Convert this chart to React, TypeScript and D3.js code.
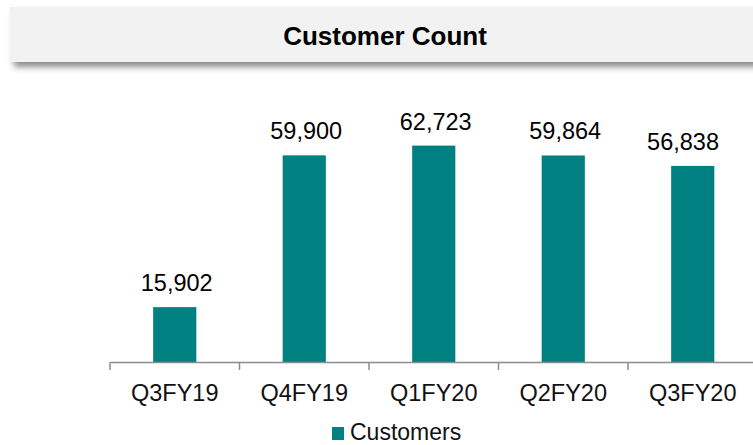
import { useEffect, useRef } from 'react';
import * as d3 from 'd3';

const categories = ['Q3FY19', 'Q4FY19', 'Q1FY20', 'Q2FY20', 'Q3FY20'];
const customers = [15902, 59900, 62723, 59864, 56838];
const seriesName = 'Customers';
const chartTitle = 'Customer Count';

const App = () => {
  const svgRef = useRef<SVGSVGElement | null>(null);
  const width = 753;
  const height = 445;

  useEffect(() => {
    const svg = d3.select(svgRef.current);
    svg.selectAll('*').remove();

    const font = '"Liberation Sans", Arial, sans-serif';
    const teal = '#008080';

    // drop shadow for title banner
    const defs = svg.append('defs');
    const filter = defs.append('filter')
      .attr('id', 'banner-shadow')
      .attr('x', '-5%').attr('y', '-20%')
      .attr('width', '115%').attr('height', '160%');
    filter.append('feDropShadow')
      .attr('dx', 4)
      .attr('dy', 5)
      .attr('stdDeviation', 3)
      .attr('flood-color', '#000')
      .attr('flood-opacity', 0.45);

    svg.append('rect')
      .attr('x', 10)
      .attr('y', 7)
      .attr('width', 770)
      .attr('height', 55)
      .attr('fill', '#f2f2f2')
      .attr('filter', 'url(#banner-shadow)');

    svg.append('text')
      .attr('x', 385)
      .attr('y', 45)
      .attr('text-anchor', 'middle')
      .style('font-family', font)
      .style('font-size', '26px')
      .style('font-weight', 'bold')
      .style('fill', '#000')
      .text(chartTitle);

    // Scales
    const xScale = d3.scaleBand<string>()
      .domain(categories)
      .range([110, 757.5])
      .padding(0);

    const yScale = d3.scaleLinear()
      .domain([0, 70000])
      .range([362, 120.5]);

    const barWidth = xScale.bandwidth() / 3;
    const data = categories.map((c, i) => ({ cat: c, value: customers[i] }));

    const g = svg.append('g');

    g.selectAll('.bar')
      .data(data)
      .enter()
      .append('rect')
      .attr('class', 'bar')
      .attr('x', d => (xScale(d.cat) as number) + xScale.bandwidth() / 2 - barWidth / 2)
      .attr('y', d => yScale(d.value))
      .attr('width', barWidth)
      .attr('height', d => yScale(0) - yScale(d.value))
      .attr('fill', teal);

    // value labels, kept inside the plot on the right
    const fmt = d3.format(',');
    const plotRight = 719;
    g.selectAll('.value-label')
      .data(data)
      .enter()
      .append('text')
      .attr('class', 'value-label')
      .attr('y', d => yScale(d.value) - 16)
      .attr('text-anchor', 'middle')
      .style('font-family', font)
      .style('font-size', '23.5px')
      .style('fill', '#000')
      .text(d => fmt(d.value))
      .each(function (d) {
        const el = this as SVGTextElement;
        const w = el.getComputedTextLength();
        let cx = (xScale(d.cat) as number) + xScale.bandwidth() / 2 + 2;
        if (cx + w / 2 > plotRight) cx = plotRight - w / 2;
        d3.select(el).attr('x', cx);
      });

    // X axis
    const axis = svg.append('g')
      .attr('transform', `translate(0,${yScale(0)})`)
      .call(
        d3.axisBottom(xScale)
          .tickSize(0)
          .tickSizeOuter(0)
      );
    axis.select('.domain')
      .attr('stroke', '#8c8c8c')
      .attr('stroke-width', 1.5);
    axis.selectAll('.tick line').remove();
    axis.selectAll('.tick text')
      .attr('y', 39)
      .attr('dy', 0)
      .style('font-family', font)
      .style('font-size', '23.5px')
      .style('fill', '#111');

    // tick marks at category boundaries
    axis.selectAll('.boundary')
      .data(categories)
      .enter()
      .append('line')
      .attr('class', 'boundary')
      .attr('x1', d => xScale(d) as number)
      .attr('x2', d => xScale(d) as number)
      .attr('y1', 0)
      .attr('y2', 8)
      .attr('stroke', '#8c8c8c')
      .attr('stroke-width', 1.5);

    // Legend
    const legend = svg.append('g').attr('transform', 'translate(332,427)');
    legend.append('rect')
      .attr('width', 12)
      .attr('height', 13)
      .attr('fill', teal);
    legend.append('text')
      .attr('x', 18)
      .attr('y', 13)
      .style('font-family', font)
      .style('font-size', '23px')
      .style('fill', '#111')
      .text(seriesName);
  }, []);

  return (
    <svg
      ref={svgRef}
      width={width}
      height={height}
      style={{ position: 'absolute', left: 0, top: 0, background: '#fff' }}
    />
  );
};

export default App;
